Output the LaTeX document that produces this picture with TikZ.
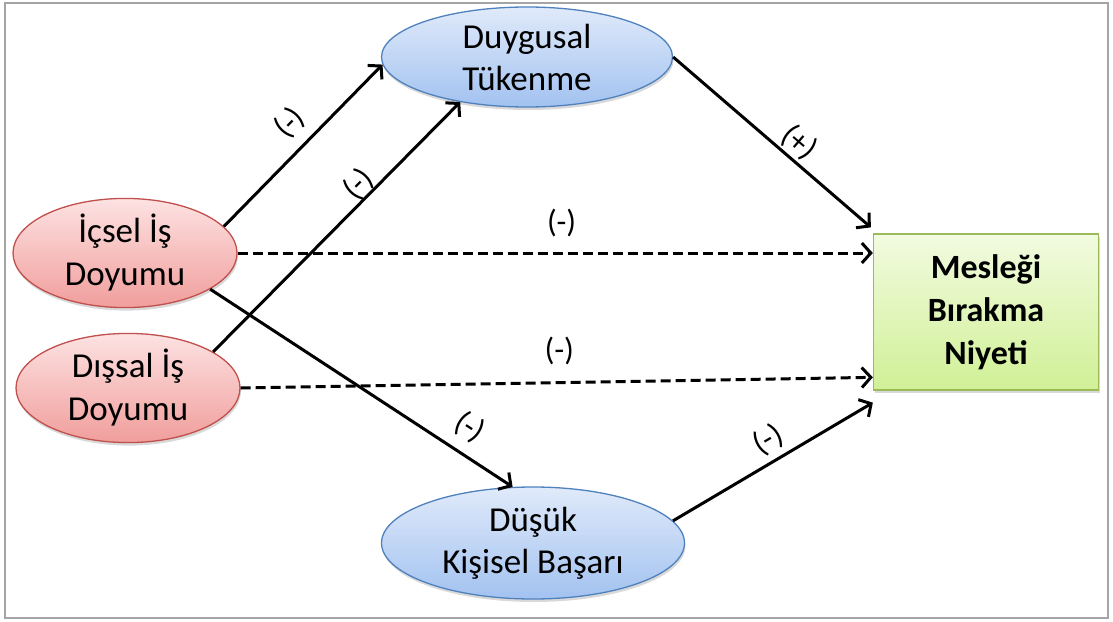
\documentclass[tikz,border=0pt]{standalone}
\usepackage{fontspec}
\setmainfont{Carlito}
\usepackage{xcolor}
\definecolor{factorline}{RGB}{192,80,77}
\definecolor{factortop}{RGB}{253,226,226}
\definecolor{factorbottom}{RGB}{240,158,156}
\definecolor{stateline}{RGB}{79,129,189}
\definecolor{statetop}{RGB}{224,234,250}
\definecolor{statebottom}{RGB}{162,194,240}
\definecolor{targetline}{RGB}{155,187,89}
\definecolor{targettop}{RGB}{242,251,224}
\definecolor{targetbottom}{RGB}{208,240,150}
\definecolor{framegray}{RGB}{165,165,165}
\usepackage{tikz}
\usetikzlibrary{arrows.meta}
\usetikzlibrary{shapes.geometric}
\usetikzlibrary{shadows}
\newcommand{\widthfactor}{224pt}
\newcommand{\heightfactor}{89pt}
\tikzset{
    common/.style={draw, line width=1.3pt, align=center, inner sep=0pt,
        drop shadow={opacity=0.3, shadow xshift=1pt, shadow yshift=-3pt}},
    factor/.style={common, ellipse, minimum width=\widthfactor, minimum height=\heightfactor,
        draw=factorline, top color=factortop, bottom color=factorbottom,
        font=\fontsize{35}{43}\selectfont},
    state/.style={common, ellipse, draw=stateline, top color=statetop, bottom color=statebottom,
        font=\fontsize{35}{42}\selectfont},
    target/.style={common, rectangle, draw=targetline, top color=targettop, bottom color=targetbottom,
        font=\bfseries\fontsize{34}{43}\selectfont},
    link/.style={line width=3pt, -{Straight Barb[length=9pt, width=20pt]}},
    weak-link/.style={link, dash pattern=on 10pt off 5pt},
    sign/.style={sloped, inner sep=1pt, font=\fontsize{32}{34}\selectfont}
}

\begin{document}
\begin{tikzpicture}[x=1pt, y=-1pt]
    \useasboundingbox (0,0) rectangle (1113,621);
    \draw[framegray, line width=2pt] (5,3) rectangle (1108,618);

    % causes on the left, mediators in the middle, outcome on the right
    \node[factor] (icsel) at (125,253) {İçsel İş\\Doyumu};
    \node[factor] (disal) at (128,388) {Dışsal İş\\Doyumu};
    \node[state, minimum width=291pt, minimum height=100pt] (duygu) at (527,57) {Duygusal\\Tükenme};
    \node[state, minimum width=303pt, minimum height=112pt] (basari) at (533,543) {Düşük\\Kişisel Başarı};
    \node[target, minimum width=225pt, minimum height=156pt] (niyet) at (986,312) {Mesleği\\Bırakma\\Niyeti};

    \draw[link] (icsel.15) -- node[sign, pos=0.53, above=9pt] {(-)} (duygu.183);
    \draw[link] (disal.23) -- node[sign, pos=0.63, above=-2pt] {(-)} (duygu.214);
    \draw[link] (icsel.-23) -- node[sign, pos=0.81, above=10pt] {(-)} (basari.110);
    \draw[link] (duygu.east) -- node[sign, pos=0.58, above=1pt] {(+)} ([xshift=-2pt, yshift=6pt]niyet.north west);
    \draw[link] (basari.9) -- node[sign, pos=0.53, above=5pt] {(-)} ([yshift=-12pt]niyet.south west);
    \draw[weak-link] (icsel.east) -- node[sign, pos=0.51, above=14pt] {(-)} (icsel.east -| niyet.west);
    \draw[weak-link] (disal.east) -- node[sign, pos=0.505, above=15pt] {(-)} (niyet.210);
\end{tikzpicture}
\end{document}
